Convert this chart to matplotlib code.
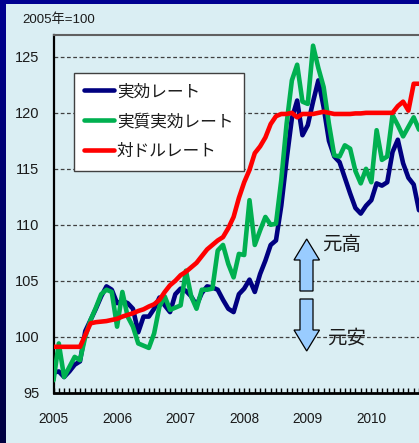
import numpy as np
import matplotlib
matplotlib.use("Agg")
import matplotlib.pyplot as plt
from matplotlib.patches import Polygon, Rectangle
from matplotlib.colors import LinearSegmentedColormap

plt.rcParams['font.family'] = ['Liberation Sans', 'Noto Sans CJK JP', 'DejaVu Sans']

# ---- data (monthly, Jan 2005 = month 0) ----
year_labels = ["2005", "2006", "2007", "2008", "2009", "2010"]
series_names = ["実効レート", "実質実効レート", "対ドルレート"]

neer = [96.8, 96.9, 96.4, 96.9, 97.5, 97.8, 100.5, 101.5, 102.5, 103.6, 104.5, 104.2,
        103.0, 103.2, 103.0, 102.5, 100.4, 101.8, 101.8, 102.5, 103.5, 102.8, 102.2, 103.8,
        104.3, 104.1, 103.6, 102.8, 103.9, 104.5, 104.4, 104.2, 103.3, 102.5, 102.2, 103.8,
        104.3, 105.1, 104.0, 105.6, 106.8, 108.2, 108.6, 111.7, 115.8, 119.5, 121.1, 118.0,
        118.9, 121.0, 122.9, 120.5, 117.5, 116.1, 115.6, 114.2, 112.8, 111.5, 111.0, 111.7,
        112.2, 113.7, 113.5, 113.8, 116.5, 117.6, 115.5, 114.2, 113.6, 111.3]

reer = [96.1, 99.4, 96.4, 97.3, 98.2, 97.9, 100.0, 101.5, 102.6, 103.8, 104.2, 104.0,
        100.9, 104.0, 101.8, 100.9, 99.4, 99.2, 99.0, 100.3, 102.7, 103.6, 102.4, 102.6,
        102.8, 105.9, 103.6, 102.5, 104.2, 104.2, 104.3, 107.7, 108.2, 106.5, 105.3, 107.4,
        107.3, 112.2, 108.2, 109.5, 110.7, 110.0, 110.1, 114.0, 119.0, 122.9, 124.3, 121.0,
        120.8, 126.0, 124.0, 122.3, 119.0, 116.2, 116.1, 117.1, 116.8, 114.8, 113.7, 115.0,
        113.8, 118.45, 115.8, 116.1, 119.8, 118.9, 117.9, 118.75, 119.6, 118.5]

usd = [99.1, 99.1, 99.1, 99.1, 99.1, 99.1, 100.15, 101.2, 101.3, 101.35, 101.4, 101.5,
       101.6, 101.8, 101.95, 102.1, 102.3, 102.45, 102.7, 102.9, 103.3, 104.0, 104.6, 105.0,
       105.5, 105.8, 106.2, 106.6, 107.2, 107.8, 108.2, 108.6, 108.9, 109.7, 110.7, 112.4,
       113.8, 114.9, 116.4, 117.0, 117.8, 119.0, 119.7, 119.9, 119.9, 120.0, 119.6, 119.9,
       119.9, 119.9, 120.0, 120.1, 120.0, 119.9, 119.9, 119.9, 119.9, 119.95, 119.95, 120.0,
       120.0, 120.0, 120.0, 120.0, 120.0, 120.6, 121.0, 120.2, 122.6, 122.6]

months = np.arange(len(neer))
year_ticks = [12 * i for i in range(len(year_labels))]
y_ticks = [95, 100, 105, 110, 115, 120, 125]

W, H = 419, 443
fig = plt.figure(figsize=(W / 100, H / 100), dpi=100)
fig.patch.set_facecolor('#DAEEF3')

# navy frame (top and left strips)
fig.add_artist(Rectangle((0, 1 - 4 / H), 1, 4 / H, transform=fig.transFigure,
                         facecolor='#000090', edgecolor='none', zorder=0))
gax = fig.add_axes([0, 0, 5 / W, 1])
grad = np.linspace(0, 1, 256).reshape(-1, 1)
cm = LinearSegmentedColormap.from_list('nv', ['#000090', '#000040'])
gax.imshow(grad, aspect='auto', cmap=cm, extent=[0, 1, 0, 1], origin='upper')
gax.axis('off')

left_px, right_px, top_px, bot_px = 53.5, 419, 34.5, 392.7
ax = fig.add_axes([left_px / W, 1 - bot_px / H, (right_px - left_px) / W, (bot_px - top_px) / H])
ax.set_facecolor('#DAEEF3')

colors = ['#000080', '#00B050', '#FF0000']
for vals, name, c in zip([neer, reer, usd], series_names, colors):
    ax.plot(months, vals, color=c, lw=3.3, label=name, solid_joinstyle='round',
            solid_capstyle='round', zorder=3)

ax.set_xlim(0, 69)
ax.set_ylim(95, 127)

for y in y_ticks[1:]:
    ax.axhline(y, color='#404040', lw=0.9, dashes=(3, 2), zorder=1)

ax.set_yticks(y_ticks)
ax.set_yticklabels([str(v) for v in y_ticks], fontsize=10.5, color='#1a1a1a')
ax.tick_params(axis='y', length=0, pad=10)

ax.set_xticks(year_ticks)
ax.set_xticklabels(year_labels, fontsize=9.8, color='#1a1a1a')
ax.set_xticks(months, minor=True)
ax.tick_params(axis='x', which='both', direction='in', length=3.5, width=1, color='black', pad=14)

ax.spines['right'].set_visible(False)
ax.spines['left'].set_linewidth(1.6)
ax.spines['bottom'].set_linewidth(2.0)
ax.spines['top'].set_color('#606060')
ax.spines['top'].set_linewidth(1.5)

leg = ax.legend(loc='upper left', bbox_to_anchor=(74 / W, 1 - 73 / H),
                bbox_transform=fig.transFigure, frameon=True, fancybox=False,
                edgecolor='#404040', facecolor='white', framealpha=1,
                prop={'family': ['Noto Sans CJK JP'], 'size': 12},
                handlelength=1.75, handletextpad=0.2, labelspacing=0.78,
                borderpad=0.62, borderaxespad=0)
leg.get_frame().set_linewidth(1.0)
for t in leg.get_texts():
    t.set_color('#1a1a1a')

fig.text(22 / W, 1 - 20 / H, "2005年=100", fontsize=9.5, va='center', ha='left',
         color='#1a1a1a', family=['Liberation Sans', 'Noto Sans CJK JP'])

# up / down arrows
def px(pts):
    return [(x / W, 1 - y / H) for x, y in pts]

up = [(306.7, 239), (319.5, 260), (313, 260), (313, 291), (300, 291), (300, 260), (294, 260)]
dn = [(300, 299), (313, 299), (313, 330), (319.5, 330), (306.7, 351), (294, 330), (300, 330)]
for pts in (up, dn):
    fig.add_artist(Polygon(px(pts), closed=True, transform=fig.transFigure,
                           facecolor='#99CCFF', edgecolor='black', lw=0.9, zorder=5))

fig.text(322 / W, 1 - 245 / H, "元高", fontsize=14, va='center', ha='left',
         color='#1a1a1a', family=['Noto Sans CJK JP'])
fig.text(327 / W, 1 - 338 / H, "元安", fontsize=14, va='center', ha='left',
         color='#1a1a1a', family=['Noto Sans CJK JP'])

fig.savefig('out.png', dpi=100, facecolor=fig.get_facecolor())
